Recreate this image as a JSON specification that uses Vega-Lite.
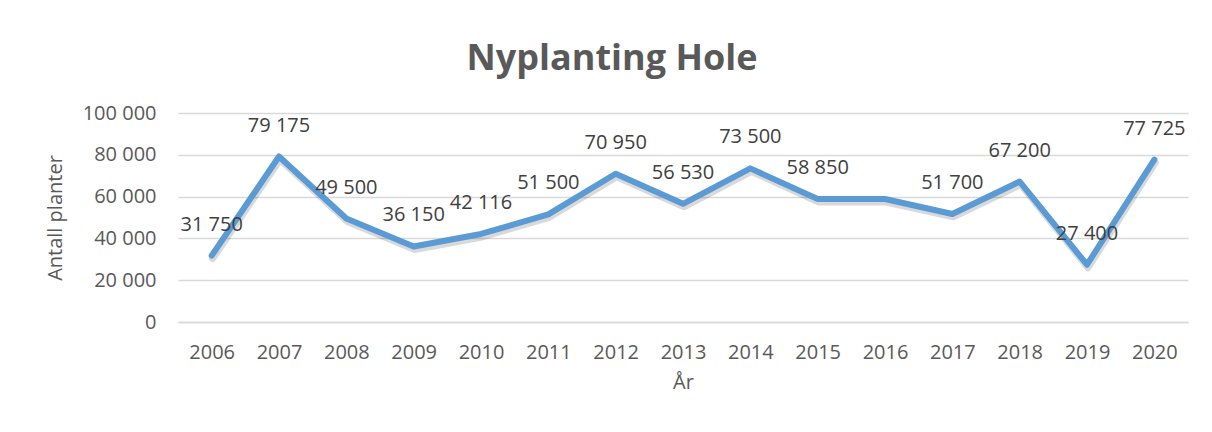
{
  "$schema": "https://vega.github.io/schema/vega-lite/v6.json",
  "width": 1010,
  "height": 209,
  "autosize": {"type": "none"},
  "padding": {"left": 178, "top": 113, "right": 24, "bottom": 110},
  "background": "white",
  "title": {
    "text": "Nyplanting Hole",
    "font": "Open Sans",
    "fontSize": 36,
    "fontWeight": "bold",
    "color": "#595959",
    "frame": "group",
    "anchor": "middle",
    "dx": -71,
    "offset": 25
  },
  "config": {
    "locale": {"number": {"decimal": ",", "thousands": " ", "grouping": [3], "currency": ["", " kr"]}},
    "view": {"stroke": null},
    "font": "Open Sans"
  },
  "data": {
    "values": [
      {"year": "2006", "value": 31750},
      {"year": "2007", "value": 79175},
      {"year": "2008", "value": 49500},
      {"year": "2009", "value": 36150},
      {"year": "2010", "value": 42116},
      {"year": "2011", "value": 51500},
      {"year": "2012", "value": 70950},
      {"year": "2013", "value": 56530},
      {"year": "2014", "value": 73500},
      {"year": "2015", "value": 58850},
      {"year": "2016", "value": 58850},
      {"year": "2017", "value": 51700},
      {"year": "2018", "value": 67200},
      {"year": "2019", "value": 27400},
      {"year": "2020", "value": 77725}
    ]
  },
  "encoding": {
    "x": {
      "field": "year",
      "type": "ordinal",
      "scale": {"paddingInner": 0, "paddingOuter": 0.5},
      "axis": {
        "title": "År",
        "labelAngle": 0,
        "labelFont": "Open Sans",
        "labelFontSize": 20,
        "labelColor": "#595959",
        "labelPadding": 20,
        "ticks": false,
        "domainColor": "#D9D9D9",
        "domainWidth": 1.5,
        "titleFont": "Open Sans",
        "titleFontSize": 20,
        "titleFontWeight": "normal",
        "titleColor": "#595959",
        "titlePadding": 10
      }
    },
    "y": {
      "field": "value",
      "type": "quantitative",
      "scale": {"domain": [0, 100000], "nice": false},
      "axis": {
        "title": "Antall planter",
        "values": [0, 20000, 40000, 60000, 80000, 100000],
        "format": ",d",
        "labelFont": "Open Sans",
        "labelFontSize": 20,
        "labelColor": "#595959",
        "labelPadding": 22,
        "ticks": false,
        "domain": false,
        "gridColor": "#D9D9D9",
        "gridWidth": 1.5,
        "titleFont": "Open Sans",
        "titleFontSize": 20,
        "titleFontWeight": "normal",
        "titleColor": "#595959",
        "titlePadding": 17
      }
    }
  },
  "layer": [
    {
      "mark": {"type": "line", "color": "#000000", "opacity": 0.15, "strokeWidth": 7, "strokeCap": "round", "strokeJoin": "round", "xOffset": 1, "yOffset": 3}
    },
    {
      "mark": {"type": "line", "color": "#5B9BD5", "strokeWidth": 6, "strokeCap": "round", "strokeJoin": "round"}
    },
    {
      "transform": [{"filter": "datum.year != '2016'"}],
      "mark": {"type": "text", "font": "Open Sans", "fontSize": 20, "color": "#404040", "dy": -31, "baseline": "middle"},
      "encoding": {"text": {"field": "value", "type": "quantitative", "format": ",d"}}
    }
  ]
}
